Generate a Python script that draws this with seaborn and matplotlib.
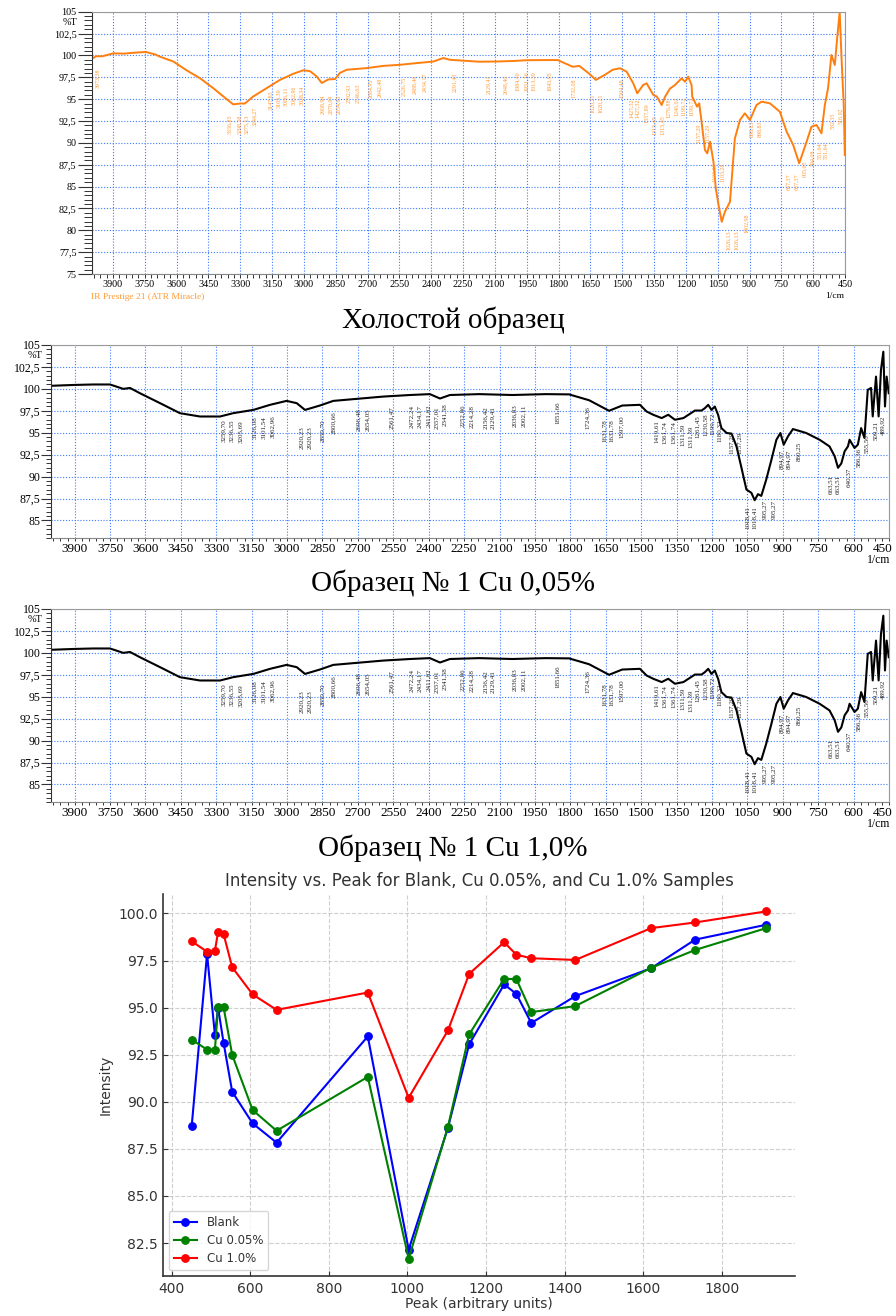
import numpy as np
import pandas as pd
import seaborn as sns
import matplotlib
matplotlib.use("Agg")
import matplotlib.pyplot as plt
import matplotlib.transforms as mtransforms
from matplotlib.ticker import MultipleLocator

# ---------------- data: bottom chart ----------------
peaks = [451, 490, 510, 518, 532, 554, 606, 667, 899, 1003, 1103, 1157, 1246, 1277, 1315, 1427, 1620, 1732, 1913]
blank = [88.73, 97.85, 93.54, 95.0, 93.14, 90.53, 88.85, 87.83, 93.47, 82.15, 88.62, 93.05, 96.23, 95.73, 94.18, 95.61, 97.09, 98.61, 99.40]
cu005 = [93.30, 92.77, 92.77, 95.03, 95.03, 92.49, 89.56, 88.46, 91.32, 81.67, 88.67, 93.58, 96.52, 96.52, 94.76, 95.08, 97.11, 98.06, 99.22]
cu10 = [98.52, 97.97, 98.02, 99.01, 98.91, 97.14, 95.70, 94.88, 95.80, 90.21, 93.79, 96.79, 98.47, 97.81, 97.62, 97.53, 99.22, 99.52, 100.11]
series_names = ["Blank", "Cu 0.05%", "Cu 1.0%"]
series_colors = ["blue", "green", "red"]

# ---------------- data: spectrum 1 (blank, orange) ----------------
wn_blank = [4000, 3980, 3950, 3898, 3850, 3804, 3745, 3700, 3678, 3615, 3553, 3490, 3427, 3364, 3333,
            3300, 3278, 3239, 3176, 3113, 3050, 3003, 2971, 2940, 2916, 2885, 2853, 2830, 2798, 2704,
            2626, 2547, 2469, 2390, 2343, 2312, 2250, 2173, 2100, 2016, 1950, 1859, 1804, 1770, 1733,
            1702, 1660, 1624, 1580, 1545, 1510, 1479, 1448, 1429, 1401, 1385, 1353, 1337, 1314, 1298,
            1275, 1251, 1220, 1204, 1189, 1173, 1170, 1147, 1137, 1126, 1110, 1099, 1086, 1070, 1059,
            1046, 1031, 1016, 992, 969, 945, 922, 898, 867, 843, 804, 757, 725, 694, 666,
            647, 631, 608, 584, 561, 545, 530, 514, 498, 487, 475, 467, 456, 451]
t_blank = [99.6, 99.9, 99.9, 100.24, 100.2, 100.3, 100.4, 100.1, 99.85, 99.3, 98.3, 97.4, 96.25, 95.0, 94.4,
           94.5, 94.5, 95.3, 96.25, 97.2, 97.9, 98.3, 98.2, 97.6, 96.85, 97.25, 97.3, 98.0, 98.36, 98.55,
           98.8, 98.93, 99.12, 99.3, 99.7, 99.5, 99.4, 99.28, 99.3, 99.36, 99.45, 99.47, 99.47, 99.1, 98.7,
           98.8, 98.0, 97.2, 97.8, 98.36, 98.53, 98.14, 96.81, 95.67, 96.62, 96.81, 95.47, 95.3, 94.33, 95.28,
           96.2, 96.62, 97.38, 96.99, 97.57, 96.62, 95.28, 94.14, 94.52, 92.42, 89.18, 88.8, 90.13, 87.85, 84.8,
           82.89, 80.97, 82.11, 83.26, 90.51, 92.61, 93.38, 92.61, 94.33, 94.71, 94.52, 93.56, 91.28, 89.75, 87.66,
           88.99, 90.13, 91.85, 92.04, 91.09, 94.33, 96.24, 100.05, 98.9, 101.96, 105.0, 100.05, 94.33, 88.61]

# ---------------- data: spectrum 2/3 (Cu samples, black) ----------------
wn_cu = [4000, 3898, 3821, 3750, 3694, 3665, 3623, 3538, 3454, 3369, 3284, 3228, 3143, 3072, 3002,
         2959, 2924, 2861, 2804, 2705, 2593, 2479, 2395, 2352, 2310, 2186, 2045, 1904, 1805, 1720,
         1636, 1580, 1505, 1477, 1449, 1413, 1385, 1357, 1321, 1293, 1272, 1244, 1230, 1216, 1202,
         1188, 1174, 1160, 1138, 1117, 1096, 1075, 1054, 1033, 1019, 1005, 991, 970, 948, 927,
         910, 896, 878, 857, 801, 744, 702, 680, 666, 652, 638, 624, 617, 596, 582,
         568, 554, 540, 526, 519, 505, 494, 484, 474, 467, 460, 451]
t_cu = [100.35, 100.45, 100.5, 100.5, 100.0, 100.1, 99.5, 98.37, 97.23, 96.85, 96.85, 97.23, 97.6, 98.18, 98.63,
        98.37, 97.6, 98.1, 98.63, 98.86, 99.12, 99.3, 99.4, 98.9, 99.3, 99.4, 99.3, 99.4, 99.37, 98.7,
        97.5, 98.1, 98.18, 97.42, 97.05, 96.67, 97.05, 96.48, 96.67, 97.16, 97.53, 97.53, 97.8, 98.18, 97.6,
        97.99, 97.05, 95.53, 94.97, 94.9, 93.44, 91.0, 88.52, 88.15, 87.31, 88.0, 87.8, 89.66, 91.93, 94.2,
        94.97, 93.64, 94.58, 95.42, 94.97, 94.2, 93.44, 92.31, 91.0, 91.5, 92.88, 93.44, 94.2, 93.26, 93.64,
        95.53, 94.4, 99.89, 100.1, 96.86, 101.4, 96.86, 102.16, 104.24, 97.99, 101.4, 99.5]

# ---------------- peak annotation labels ----------------
lab_blank = ["3973,38", "3336,85", "3298,28", "3275,13", "3244,27", "3147,83", "3105,39", "3086,11", "3062,96",
             "3028,34", "2908,94", "2870,09", "2854,65", "2792,93", "2746,63", "2684,91", "2642,48", "2526,75",
             "2488,46", "2434,17", "2291,43", "2129,41", "2048,40", "1984,40", "1951,36", "1913,39", "1843,95",
             "1732,08", "1620,21", "1620,21", "1504,48", "1427,32", "1427,32", "1357,89", "1315,45", "1315,45",
             "1276,88", "1246,02", "1199,72", "1199,72", "1157,29", "1157,29", "1103,28", "1103,28", "1026,13",
             "1026,13", "1002,98", "898,83", "898,83", "667,37", "667,37", "605,65", "594,08", "551,64",
             "551,64", "532,35", "516,92"]
lab_blank_wn = [3970, 3349, 3305, 3270, 3230, 3156, 3121, 3086, 3050, 3010, 2911, 2874, 2835, 2791, 2746, 2685,
                2645, 2528, 2480, 2433, 2291, 2129, 2048, 1996, 1953, 1917, 1844, 1730, 1639, 1605, 1506, 1455,
                1427, 1388, 1349, 1312, 1281, 1246, 1212, 1174, 1140, 1097, 1066, 1030, 998, 964, 917, 892,
                854, 715, 678, 642, 602, 571, 540, 508, 469]
lab_blank_t = [98.5, 93.2, 93.2, 93.2, 94.1, 96.0, 96.2, 96.4, 96.5, 96.6, 95.5, 95.5, 95.5, 96.8, 96.8, 97.4,
               97.4, 97.6, 97.8, 98.0, 98.0, 97.8, 97.8, 98.2, 98.2, 98.2, 98.2, 97.4, 95.7, 95.7, 97.4, 95.1,
               95.1, 94.5, 93.2, 93.2, 95.1, 95.3, 95.3, 95.3, 92.2, 92.2, 87.7, 87.7, 80.0, 80.0, 81.9, 92.6,
               92.6, 86.5, 86.5, 88.0, 89.2, 90.0, 90.0, 93.4, 94.1]

lab_cu = ["3259,70", "3236,55", "3205,69", "3126,08", "3101,54", "3062,96", "2920,23", "2920,23", "2850,70",
          "2800,66", "2696,48", "2654,05", "2561,47", "2472,24", "2434,17", "2411,02", "2357,01", "2341,58",
          "2252,86", "2214,28", "2156,42", "2129,41", "2036,83", "2002,11", "1851,66", "1724,36", "1631,78",
          "1631,78", "1597,00", "1419,61", "1361,74", "1361,74", "1311,59", "1311,59", "1261,45", "1230,58",
          "1199,72", "1180,32", "1157,29", "1157,29", "1018,41", "1018,41", "995,27", "995,27", "894,97",
          "894,97", "860,25", "663,51", "663,51", "640,37", "586,36", "555,50", "509,21", "489,92"]
lab_cu_wn = [3267, 3235, 3199, 3136, 3101, 3061, 2938, 2903, 2849, 2804, 2698, 2659, 2557, 2472, 2440, 2402,
             2366, 2331, 2256, 2217, 2161, 2129, 2038, 2000, 1854, 1727, 1657, 1626, 1586, 1435, 1400, 1365,
             1326, 1291, 1262, 1227, 1199, 1168, 1118, 1084, 1051, 1019, 976, 938, 906, 875, 835, 697,
             667, 622, 581, 547, 508, 476]
lab_cu_t = [96.5, 96.5, 96.4, 96.9, 96.9, 97.0, 95.7, 95.7, 96.5, 97.4, 97.8, 97.8, 98.0, 98.2, 98.2, 98.2,
            98.0, 98.4, 98.2, 98.2, 98.0, 98.0, 98.2, 98.2, 98.6, 98.0, 96.5, 96.5, 97.0, 96.4, 96.3, 96.3,
            96.0, 95.8, 97.0, 97.2, 97.3, 96.5, 95.1, 95.1, 86.6, 86.6, 87.4, 87.4, 93.1, 93.1, 94.0, 90.2,
            90.2, 91.0, 93.3, 94.8, 96.3, 97.0]

captions = ["Холостой образец", "Образец № 1 Cu 0,05%", "Образец № 1 Cu 1,0%"]

# ---------------- figure ----------------
W, H = 896, 1316
fig = plt.figure(figsize=(W / 100, H / 100), dpi=100)
plt.rcParams["font.family"] = ["DejaVu Sans"]
SERIF = "Liberation Serif"


def box(l, t, r, b):
    return [l / W, 1 - b / H, (r - l) / W, (b - t) / H]


def fmt(v):
    s = f"{v:.1f}".replace(".", ",")
    return s[:-2] if s.endswith(",0") else s


def style_spec(ax, ymin, xfs, yfs, ylen, ypad, xlen, xpad, last_shift=0):
    ax.set_xlim(4000, 450)
    ax.set_ylim(ymin, 105)
    xt = list(range(3900, 449, -150))
    ax.set_xticks(xt)
    ax.set_xticklabels([str(v) for v in xt], fontsize=xfs, family=SERIF)
    ax.xaxis.set_minor_locator(MultipleLocator(30))
    yt = [v for v in np.arange(105, ymin - 0.01, -2.5)]
    ax.set_yticks(yt)
    ax.set_yticklabels([fmt(v) for v in yt], fontsize=yfs, family=SERIF)
    ax.yaxis.set_minor_locator(MultipleLocator(0.5))
    ax.grid(True, which="major", color="#3d7bff", linestyle=(0, (1, 1.6)), linewidth=0.8)
    ax.set_axisbelow(True)
    ax.tick_params(axis="y", which="major", length=ylen, width=0.8, pad=ypad, color="#333333")
    ax.tick_params(axis="y", which="minor", length=ylen * 0.55, width=0.7, color="#333333")
    ax.tick_params(axis="x", which="both", length=xlen, width=0.7, pad=xpad, color="#333333")
    for s in ["top", "right"]:
        ax.spines[s].set_color("#9a9a9a")
        ax.spines[s].set_linewidth(0.8)
    ax.spines["left"].set_color("#333333")
    ax.spines["bottom"].set_color("#888888")
    ax.set_xlabel("")
    ax.set_ylabel("")
    if last_shift:
        lab = ax.get_xticklabels()[-1]
        lab.set_transform(lab.get_transform() + mtransforms.ScaledTranslation(-last_shift / 100, 0, fig.dpi_scale_trans))


# Panel 1
ax1 = fig.add_axes(box(91.7, 11.7, 845, 274))
sns.lineplot(x=wn_blank, y=t_blank, ax=ax1, color="#ff7f0e", linewidth=1.4, estimator=None, sort=False)
style_spec(ax1, 75, 7.3, 7.3, 10, 1, 3, 1.5)
for s, w_, t_ in zip(lab_blank, lab_blank_wn, lab_blank_t):
    ax1.text(w_, t_, s, rotation=90, ha="center", va="top", fontsize=4.3, color="#ff9933", family=SERIF)
ax1.annotate("%T", xy=(0, 103.8), xycoords=ax1.get_yaxis_transform(), xytext=(-10, 0),
             textcoords="offset points", ha="right", va="center", fontsize=7.3, family=SERIF)
fig.text(91 / W, 1 - 297 / H, "IR Prestige 21 (ATR Miracle)", color="#ff9933", fontsize=6.8,
         family=SERIF, ha="left", va="center")
fig.text(835 / W, 1 - 296 / H, "1/cm", fontsize=6.8, family=SERIF, ha="center", va="center")
fig.text(453 / W, 1 - 320 / H, captions[0], fontsize=21, family=SERIF, ha="center", va="center")

# Panels 2 and 3
for top, bot, cap_y, cm_y, cap in [(345, 538, 583, 560, captions[1]), (609, 802, 848, 824, captions[2])]:
    ax = fig.add_axes(box(51, top, 889, bot))
    sns.lineplot(x=wn_cu, y=t_cu, ax=ax, color="black", linewidth=1.5, estimator=None, sort=False)
    style_spec(ax, 83, 9.5, 8.5, 7, 0.5, 2.5, 1, last_shift=6)
    ax.annotate("%T", xy=(0, 103.75), xycoords=ax.get_yaxis_transform(), xytext=(-6, 0),
                textcoords="offset points", ha="right", va="center", fontsize=7.5, family=SERIF)
    for s, w_, t_ in zip(lab_cu, lab_cu_wn, lab_cu_t):
        ax.text(w_, t_, s, rotation=90, ha="center", va="top", fontsize=5, color="#222222", family=SERIF)
    fig.text(879 / W, 1 - cm_y / H, "1/cm", fontsize=8.5, family=SERIF, ha="center", va="center")
    fig.text(453 / W, 1 - cap_y / H, cap, fontsize=21, family=SERIF, ha="center", va="center")

# Bottom chart
TXT = "#333333"
axb = fig.add_axes(box(163, 894, 795, 1276))
for name, vals, col in zip(series_names, [blank, cu005, cu10], series_colors):
    sns.lineplot(x=peaks, y=vals, ax=axb, color=col, marker="o", markersize=5.5, linewidth=1.5,
                 markeredgecolor=col, markeredgewidth=0.8, label=name, estimator=None, sort=False)
axb.grid(True, linestyle="--", color="#bbbbbb", linewidth=0.8, alpha=0.7)
axb.set_axisbelow(True)
sns.despine(ax=axb)
for s in ["left", "bottom"]:
    axb.spines[s].set_color(TXT)
    axb.spines[s].set_linewidth(1.2)
axb.set_title("Intensity vs. Peak for Blank, Cu 0.05%, and Cu 1.0% Samples", fontsize=12, pad=6, color=TXT)
axb.set_xlabel("Peak (arbitrary units)", fontsize=10, labelpad=1, color=TXT)
axb.set_ylabel("Intensity", fontsize=10, color=TXT)
axb.tick_params(labelsize=10, direction="in", colors=TXT, length=3.5, pad=4)
leg = axb.legend(loc="lower left", fontsize=8.5, labelspacing=0.45)
for t in leg.get_texts():
    t.set_color(TXT)

fig.savefig("out.png", dpi=100)
